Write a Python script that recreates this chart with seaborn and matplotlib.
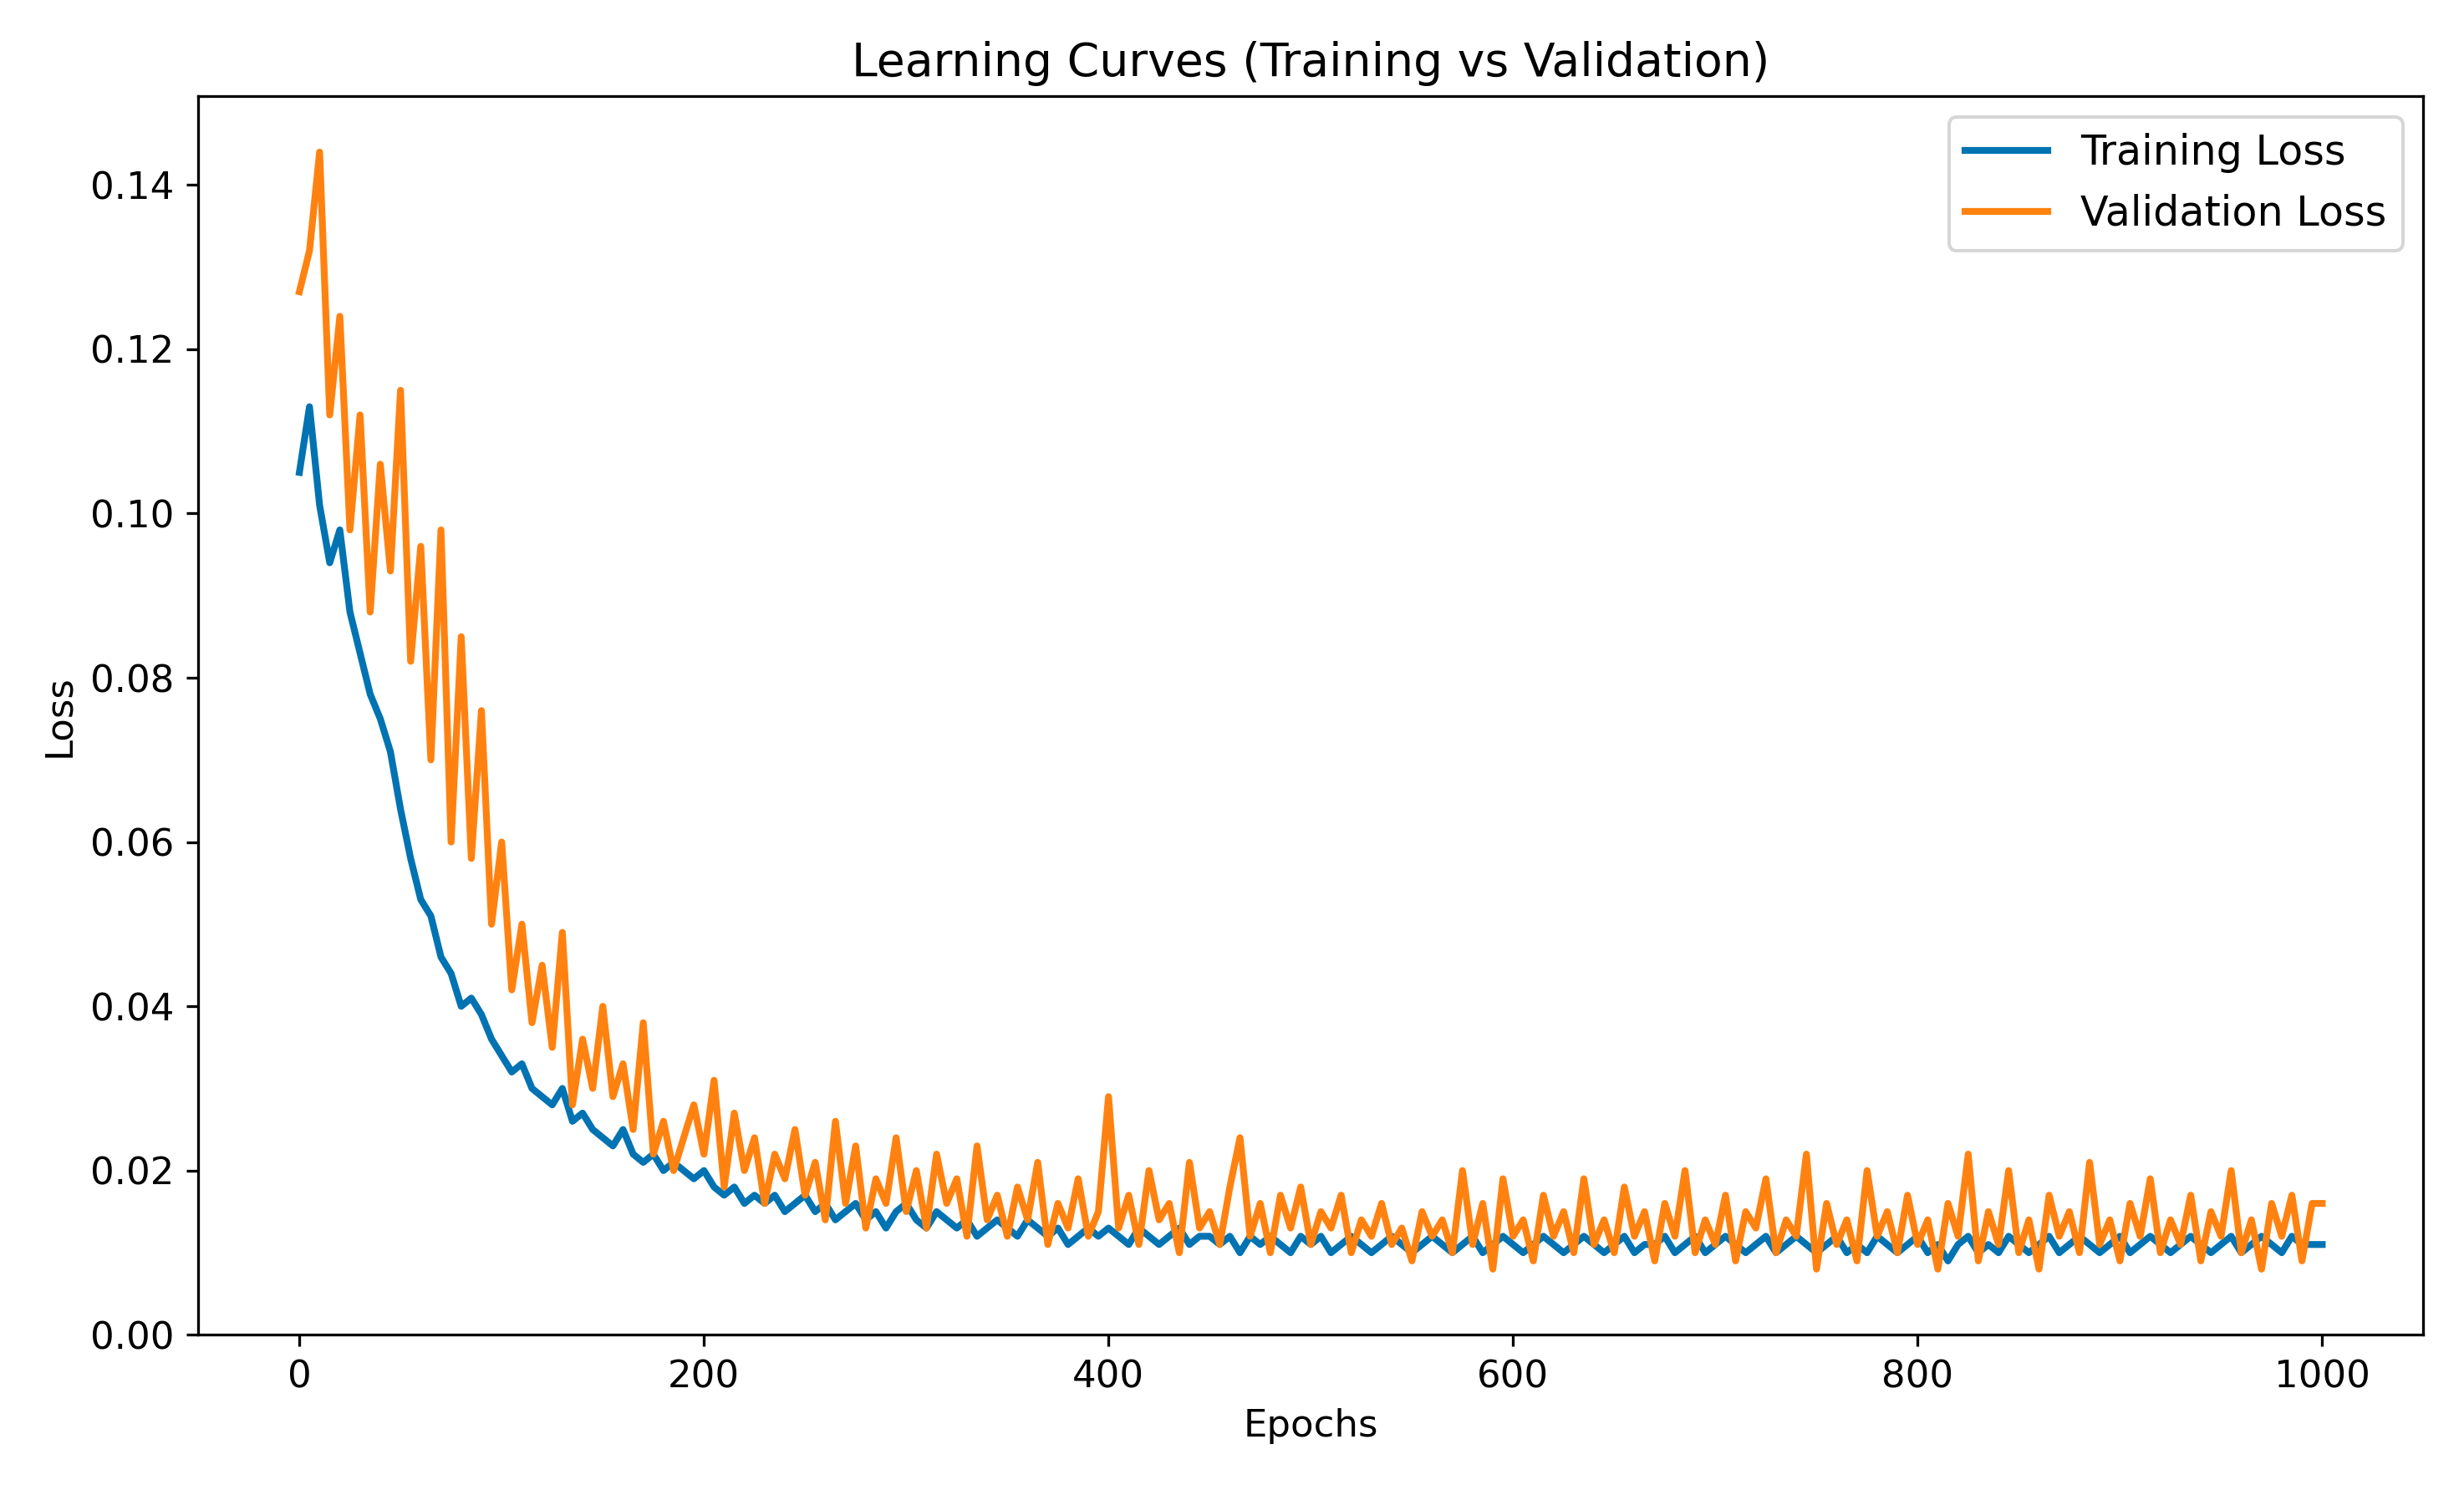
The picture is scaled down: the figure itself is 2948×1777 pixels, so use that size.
import numpy as np
import pandas as pd
import matplotlib
matplotlib.use('Agg')
import matplotlib.pyplot as plt
import seaborn as sns

EPOCHS = list(range(0, 1001, 5))

TRAIN_LOSS = [
    0.105, 0.113, 0.101, 0.094, 0.098, 0.088, 0.083, 0.078, 0.075, 0.071,
    0.064, 0.058, 0.053, 0.051, 0.046, 0.044, 0.040, 0.041, 0.039, 0.036,
    0.034, 0.032, 0.033, 0.030, 0.029, 0.028, 0.030, 0.026, 0.027, 0.025,
    0.024, 0.023, 0.025, 0.022, 0.021, 0.022, 0.020, 0.021, 0.020, 0.019,
    0.020, 0.018, 0.017, 0.018, 0.016, 0.017, 0.016, 0.017, 0.015, 0.016,
    0.017, 0.015, 0.016, 0.014, 0.015, 0.016, 0.014, 0.015, 0.013, 0.015,
    0.016, 0.014, 0.013, 0.015, 0.014, 0.013, 0.014, 0.012, 0.013, 0.014,
    0.013, 0.012, 0.014, 0.013, 0.012, 0.013, 0.011, 0.012, 0.013, 0.012,
    0.013, 0.012, 0.011, 0.013, 0.012, 0.011, 0.012, 0.013, 0.011, 0.012,
    0.012, 0.011, 0.012, 0.010, 0.012, 0.011, 0.012, 0.011, 0.010, 0.012,
    0.011, 0.012, 0.010, 0.011, 0.012, 0.011, 0.010, 0.011, 0.012, 0.011,
    0.010, 0.011, 0.012, 0.011, 0.010, 0.011, 0.012, 0.010, 0.011, 0.012,
    0.011, 0.010, 0.011, 0.012, 0.011, 0.010, 0.011, 0.012, 0.011, 0.010,
    0.011, 0.012, 0.010, 0.011, 0.011, 0.012, 0.010, 0.011, 0.012, 0.010,
    0.011, 0.012, 0.011, 0.010, 0.011, 0.012, 0.010, 0.011, 0.012, 0.011,
    0.010, 0.011, 0.012, 0.010, 0.011, 0.010, 0.012, 0.011, 0.010, 0.011,
    0.012, 0.010, 0.011, 0.009, 0.011, 0.012, 0.010, 0.011, 0.010, 0.012,
    0.011, 0.010, 0.011, 0.012, 0.010, 0.011, 0.012, 0.011, 0.010, 0.011,
    0.012, 0.010, 0.011, 0.012, 0.011, 0.010, 0.011, 0.012, 0.011, 0.010,
    0.011, 0.012, 0.010, 0.011, 0.012, 0.011, 0.010, 0.012, 0.011, 0.011,
    0.011,
]

VAL_LOSS = [
    0.127, 0.132, 0.144, 0.112, 0.124, 0.098, 0.112, 0.088, 0.106, 0.093,
    0.115, 0.082, 0.096, 0.070, 0.098, 0.060, 0.085, 0.058, 0.076, 0.050,
    0.060, 0.042, 0.050, 0.038, 0.045, 0.035, 0.049, 0.028, 0.036, 0.030,
    0.040, 0.029, 0.033, 0.025, 0.038, 0.022, 0.026, 0.020, 0.024, 0.028,
    0.022, 0.031, 0.018, 0.027, 0.020, 0.024, 0.016, 0.022, 0.019, 0.025,
    0.017, 0.021, 0.014, 0.026, 0.016, 0.023, 0.013, 0.019, 0.016, 0.024,
    0.015, 0.020, 0.013, 0.022, 0.016, 0.019, 0.012, 0.023, 0.014, 0.017,
    0.012, 0.018, 0.014, 0.021, 0.011, 0.016, 0.013, 0.019, 0.012, 0.015,
    0.029, 0.013, 0.017, 0.011, 0.020, 0.014, 0.016, 0.010, 0.021, 0.013,
    0.015, 0.011, 0.018, 0.024, 0.012, 0.016, 0.010, 0.017, 0.013, 0.018,
    0.011, 0.015, 0.013, 0.017, 0.010, 0.014, 0.012, 0.016, 0.011, 0.013,
    0.009, 0.015, 0.012, 0.014, 0.010, 0.020, 0.011, 0.016, 0.008, 0.019,
    0.012, 0.014, 0.009, 0.017, 0.012, 0.015, 0.010, 0.019, 0.011, 0.014,
    0.010, 0.018, 0.012, 0.015, 0.009, 0.016, 0.012, 0.020, 0.010, 0.014,
    0.011, 0.017, 0.009, 0.015, 0.013, 0.019, 0.010, 0.014, 0.012, 0.022,
    0.008, 0.016, 0.011, 0.014, 0.009, 0.020, 0.012, 0.015, 0.010, 0.017,
    0.011, 0.014, 0.008, 0.016, 0.012, 0.022, 0.009, 0.015, 0.011, 0.020,
    0.010, 0.014, 0.008, 0.017, 0.012, 0.015, 0.010, 0.021, 0.011, 0.014,
    0.009, 0.016, 0.012, 0.019, 0.010, 0.014, 0.011, 0.017, 0.009, 0.015,
    0.012, 0.020, 0.010, 0.014, 0.008, 0.016, 0.012, 0.017, 0.009, 0.016,
    0.016,
]

df = pd.DataFrame({
    "epoch": EPOCHS * 2,
    "loss": TRAIN_LOSS + VAL_LOSS,
    "series": ["Training Loss"] * len(EPOCHS) + ["Validation Loss"] * len(EPOCHS),
})

plt.rcParams.update({"font.size": 11})
fig, ax = plt.subplots(figsize=(10, 6.028), dpi=294.8)
sns.lineplot(data=df, x="epoch", y="loss", hue="series",
             palette={"Training Loss": "#0173B2", "Validation Loss": "#FF8211"},
             linewidth=2, ax=ax)
ax.set_title("Learning Curves (Training vs Validation)", fontsize=13.5)
ax.set_xlabel("Epochs")
ax.set_ylabel("Loss")
ax.set_yticks(np.arange(0, 0.141, 0.02))
ax.legend(title=None, loc="upper right", fontsize=12)
plt.tight_layout()
plt.savefig("out.png", dpi=294.8)
